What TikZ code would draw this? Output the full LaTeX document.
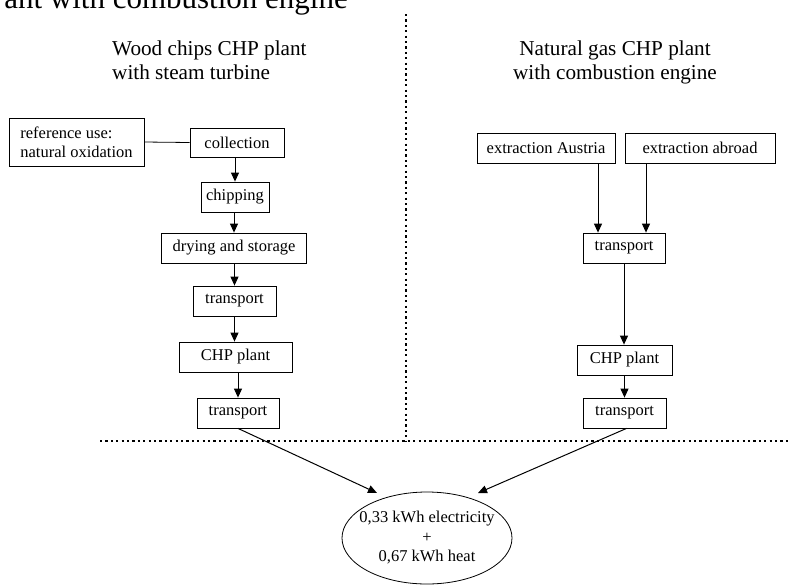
\documentclass[tikz,border=0pt]{standalone}
\usepackage{fontspec}
\setmainfont{Liberation Serif}
\usetikzlibrary{arrows.meta,shapes.geometric}
\begin{document}
\begin{tikzpicture}[x=1pt,y=-1pt,
  box/.style={draw,line width=0.8pt,inner sep=0pt,font=\fontsize{16.5}{19}\selectfont},
  arr/.style={line width=1pt,-{Triangle[length=9pt,width=8pt]}},
  plain/.style={line width=0.8pt},
  divider/.style={line width=2.1pt,dash pattern=on 2.1pt off 3.3pt},
  title/.style={inner sep=0pt,font=\fontsize{21.2}{24}\selectfont}]
\useasboundingbox (0,0) rectangle (789,587);
\clip (0,0) rectangle (789,587);
\node[inner sep=0pt,anchor=base east,font=\fontsize{31}{36}\selectfont] (top) at (348,8) {ant with combustion engine};
\draw[divider] (406,14) -- (406,441);
\draw[divider] (100,441) -- (789,441);
\node[title,anchor=base west,align=left] (tl) at (112,79) {Wood chips CHP plant\\with steam turbine};
\node[title,anchor=base,align=center] (tr) at (615,79) {Natural gas CHP plant\\with combustion engine};
% left column
\node[box,minimum width=135pt,minimum height=48pt,align=left] (ref) at (76.5,142) {reference use:\\natural oxidation};
\node[box,minimum width=94pt,minimum height=29pt] (coll) at (237,142.5) {collection};
\node[box,minimum width=68pt,minimum height=30pt] (chip) at (235,197) {chipping};
\node[box,minimum width=145pt,minimum height=30pt] (dry) at (234,248) {drying and storage};
\node[box,minimum width=83pt,minimum height=30pt] (t1) at (234.5,301) {transport};
\node[box,minimum width=113pt,minimum height=30pt] (chpL) at (235.5,357) {CHP plant};
\node[box,minimum width=82pt,minimum height=30pt] (t2) at (238,413) {transport};
% right column
\node[box,minimum width=138pt,minimum height=30pt] (extA) at (546,148) {extraction Austria};
\node[box,minimum width=150pt,minimum height=30pt] (extB) at (700,148) {extraction abroad};
\node[box,minimum width=82pt,minimum height=30pt] (tR) at (624,248) {transport};
\node[box,minimum width=95pt,minimum height=30pt] (chpR) at (624.5,360) {CHP plant};
\node[box,minimum width=83pt,minimum height=30pt] (tR2) at (624.5,413) {transport};
% output
\node[draw,ellipse,line width=0.8pt,minimum width=170pt,minimum height=92pt,inner sep=0pt,
  label={[align=center,inner sep=0pt,font=\fontsize{16.5}{19.5}\selectfont]center:0,33 kWh electricity\\+\\0,67 kWh heat}] (out) at (427,538) {};
\coordinate (tipL) at (377,493);
\coordinate (tipR) at (478,493);
% connectors
\draw[plain] (ref.east) -- (coll.west);
\draw[arr] (chip.north |- coll.south) -- (chip.north);
\draw[arr] (dry.north |- chip.south) -- (dry.north);
\draw[arr] (t1.north |- dry.south) -- (t1.north);
\draw[arr] (t1.south) -- (t1.south |- chpL.north);
\draw[arr] (chpL.south -| t2.north) -- (t2.north);
\draw[arr] ([xshift=52pt]extA.south) -- ([xshift=52pt]extA.south |- tR.north);
\draw[arr] ([xshift=-54pt]extB.south) -- ([xshift=-54pt]extB.south |- tR.north);
\draw[arr] (tR.south) -- (tR.south |- chpR.north);
\draw[arr] (chpR.south) -- (chpR.south |- tR2.north);
\draw[arr] (t2.south) -- (tipL);
\draw[arr] ([xshift=2pt]tR2.south) -- (tipR);
\end{tikzpicture}
\end{document}
